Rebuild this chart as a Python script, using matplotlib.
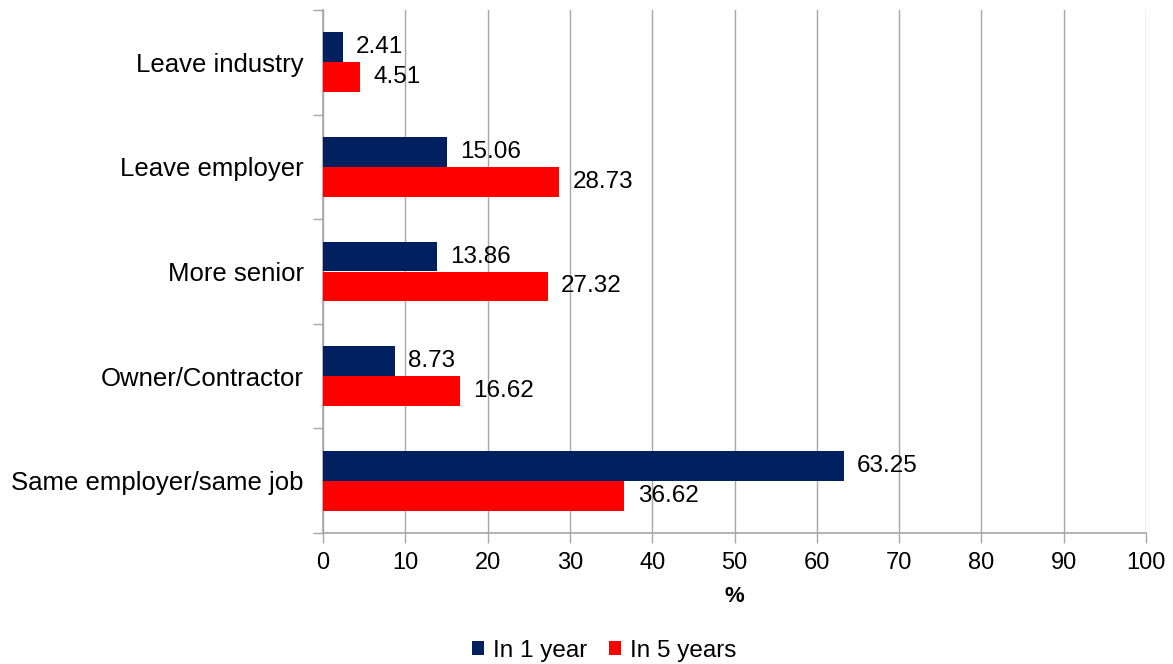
import matplotlib
matplotlib.use("Agg")
import matplotlib.pyplot as plt
import numpy as np

categories = ["Leave industry", "Leave employer", "More senior", "Owner/Contractor", "Same employer/same job"]
in_1_year = [2.41, 15.06, 13.86, 8.73, 63.25]
in_5_years = [4.51, 28.73, 27.32, 16.62, 36.62]
series_names = ["In 1 year", "In 5 years"]
xticks = list(range(0, 101, 10))

plt.rcParams['font.family'] = ['Liberation Sans', 'DejaVu Sans']

fig = plt.figure(figsize=(11.73, 6.64), dpi=100)
ax = fig.add_axes([323/1173, 1-533/664, (1146-323)/1173, (533-10)/664])

navy = "#002060"
red = "#FF0000"
grid_c = "#A6A6A6"

y = np.arange(len(categories))
h = 0.285
b1 = ax.barh(y - h/2, in_1_year, height=h, color=navy, label=series_names[0], zorder=3)
b2 = ax.barh(y + h/2, in_5_years, height=h, color=red, label=series_names[1], zorder=3)

for bars, vals in ((b1, in_1_year), (b2, in_5_years)):
    for rect, v in zip(bars, vals):
        ax.annotate(f"{v:.2f}", (v, rect.get_y() + rect.get_height()/2),
                    xytext=(9.5, 0), textcoords="offset points",
                    va="center", ha="left", fontsize=17.5, color="black", zorder=4)

ax.set_ylim(len(categories) - 0.5, -0.5)
ax.set_xlim(0, 100)
ax.set_xticks(xticks)
ax.set_xticklabels([str(t) for t in xticks], fontsize=17)
ax.set_yticks(y)
ax.set_yticklabels(categories, fontsize=18.5)
ax.tick_params(axis='y', length=0, pad=14)
ax.set_yticks(np.arange(-0.5, len(categories), 1), minor=True)
ax.tick_params(axis='y', which='minor', length=7, color=grid_c, width=1)
ax.tick_params(axis='x', length=7, color=grid_c, width=1, pad=7)

ax.xaxis.grid(True, color=grid_c, linewidth=1, zorder=0)
ax.set_axisbelow(True)
for s in ("top", "right"):
    ax.spines[s].set_visible(False)
for s in ("left", "bottom"):
    ax.spines[s].set_color(grid_c)
    ax.spines[s].set_linewidth(1.2)

ax.set_xlabel("%", fontsize=16, fontweight="bold", labelpad=8)

fig.legend(handles=[b1, b2], labels=series_names, loc="lower center",
           bbox_to_anchor=(0.515, -0.03), ncol=2, frameon=False, fontsize=17.5,
           handlelength=0.5, handleheight=0.5, handletextpad=0.35, columnspacing=0.9)

fig.savefig("out.png", dpi=100)
